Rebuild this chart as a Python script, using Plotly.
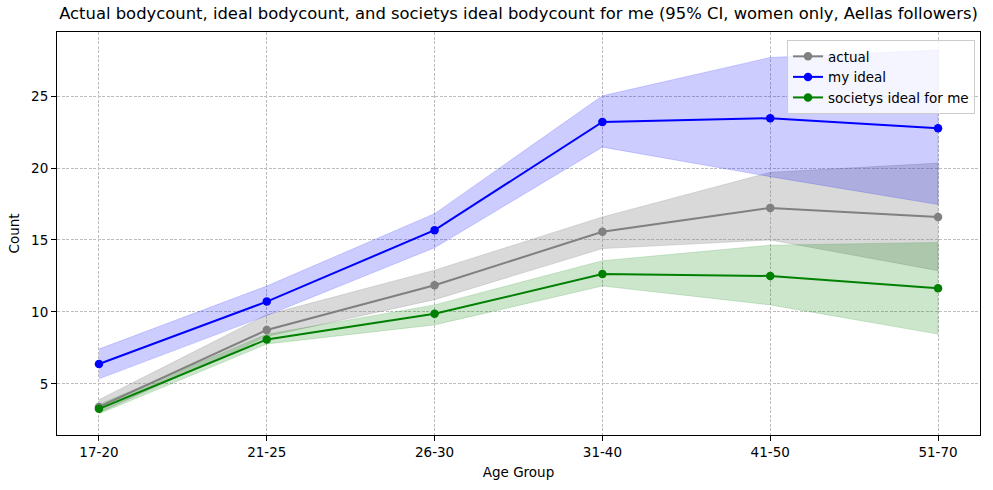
import plotly.graph_objects as go

age_groups = ["17-20", "21-25", "26-30", "31-40", "41-50", "51-70"]

actual = [3.4, 8.75, 11.85, 15.57, 17.23, 16.6]
actual_lo = [3.0, 8.3, 10.85, 14.4, 15.0, 12.87]
actual_hi = [3.9, 9.8, 12.9, 16.6, 19.7, 20.34]

my_ideal = [6.38, 10.72, 15.68, 23.2, 23.46, 22.76]
my_ideal_lo = [5.35, 9.75, 14.46, 21.45, 19.4, 17.46]
my_ideal_hi = [7.42, 11.8, 16.83, 25.02, 27.68, 28.2]

society = [3.27, 8.09, 9.87, 12.63, 12.5, 11.64]
society_lo = [2.92, 7.77, 9.1, 11.8, 10.49, 8.46]
society_hi = [3.57, 8.45, 10.49, 13.56, 14.64, 14.83]

x_idx = list(range(len(age_groups)))

series = [
    ("actual", actual, actual_lo, actual_hi, "gray", "rgba(128,128,128,0.3)"),
    ("my ideal", my_ideal, my_ideal_lo, my_ideal_hi, "blue", "rgba(0,0,255,0.2)"),
    ("societys ideal for me", society, society_lo, society_hi, "green", "rgba(0,128,0,0.2)"),
]

fig = go.Figure()

for name, vals, lo, hi, col, fcol in series:
    fig.add_trace(go.Scatter(
        x=x_idx + x_idx[::-1],
        y=hi + lo[::-1],
        fill="toself",
        fillcolor=fcol,
        line=dict(color=fcol, width=0.8),
        mode="lines",
        hoverinfo="skip",
        showlegend=False,
    ))

for name, vals, lo, hi, col, fcol in series:
    fig.add_trace(go.Scatter(
        x=x_idx,
        y=vals,
        name=name,
        mode="lines+markers",
        line=dict(color=col, width=2),
        marker=dict(color=col, size=8.5),
    ))

font = "DejaVu Sans"
grid = dict(showgrid=True, gridcolor="#bdbdbd", gridwidth=0.6, griddash="3px,1.5px")
fig.update_layout(
    width=993,
    height=490,
    margin=dict(l=57, r=13, t=32, b=53),
    paper_bgcolor="white",
    plot_bgcolor="white",
    font=dict(family=font, size=13.5, color="black"),
    title=dict(
        text="Actual bodycount, ideal bodycount, and societys ideal bodycount for me (95% CI, women only, Aellas followers)",
        x=(57 + 980) / 2 / 993,
        xanchor="center",
        y=1 - 13 / 490,
        yanchor="middle",
        font=dict(family=font, size=16.4, color="black"),
    ),
    xaxis=dict(
        range=[-0.25, 5.25],
        tickmode="array",
        tickvals=x_idx,
        ticktext=age_groups,
        showline=True,
        linecolor="black",
        linewidth=1,
        mirror=True,
        ticks="outside",
        ticklen=5,
        tickcolor="black",
        zeroline=False,
        title=dict(text="Age Group", font=dict(size=13.5), standoff=8),
        **grid,
    ),
    yaxis=dict(
        range=[1.45, 29.45],
        tickvals=[5, 10, 15, 20, 25],
        showline=True,
        linecolor="black",
        linewidth=1,
        mirror=True,
        ticks="outside",
        ticklen=5,
        tickcolor="black",
        zeroline=False,
        title=dict(text="Count", font=dict(size=13.5), standoff=8),
        **grid,
    ),
    legend=dict(
        x=0.9946,
        y=0.98,
        xanchor="right",
        yanchor="top",
        bgcolor="rgba(255,255,255,0.8)",
        bordercolor="#cccccc",
        borderwidth=1,
        font=dict(size=13.5),
        tracegroupgap=0,
    ),
)

fig.write_html("out.html")
